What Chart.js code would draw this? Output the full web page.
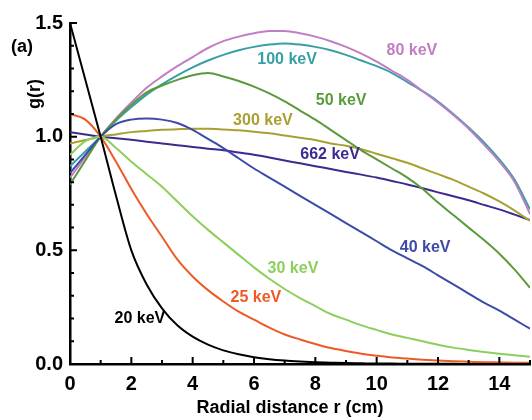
<!DOCTYPE html>
<html>
<head>
<meta charset="utf-8">
<script src="https://cdn.jsdelivr.net/npm/chart.js@4/dist/chart.umd.min.js"></script>
<style>
  html, body { margin: 0; padding: 0; background: #fff; }
</style>
</head>
<body>
<canvas id="gPlot" width="532" height="420"></canvas>
<script>
// radial distance (cm), shared by every curve
var radius = [0, 0.5, 1, 1.5, 2, 2.5, 3, 3.5, 4, 4.5, 5, 5.5, 6, 6.5, 7, 7.5,
              8, 8.5, 9, 9.5, 10, 10.5, 11, 11.5, 12, 12.5, 13, 13.5, 14, 14.5, 15];

var energies = ['20 keV', '25 keV', '30 keV', '40 keV', '50 keV', '80 keV', '100 keV', '300 keV', '662 keV'];

var g20 = [1.5, 1.25, 1.0, 0.74, 0.50, 0.35, 0.245, 0.17, 0.12, 0.085, 0.06, 0.043, 0.03, 0.021, 0.015, 0.011,
           0.008, 0.006, 0.004, 0.003, 0.002, 0.002, 0.001, 0.001, 0.001, 0.001, 0, 0, 0, 0, 0];
var g25 = [1.10, 1.075, 1.0, 0.89, 0.77, 0.66, 0.56, 0.46, 0.385, 0.325, 0.275, 0.23, 0.195, 0.16, 0.13, 0.108,
           0.088, 0.07, 0.057, 0.045, 0.036, 0.029, 0.024, 0.019, 0.015, 0.012, 0.01, 0.008, 0.007, 0.006, 0.005];
var g30 = [0.92, 0.98, 1.0, 0.95, 0.89, 0.835, 0.78, 0.715, 0.65, 0.59, 0.535, 0.48, 0.425, 0.375, 0.33, 0.29,
           0.255, 0.22, 0.195, 0.17, 0.15, 0.13, 0.115, 0.10, 0.085, 0.072, 0.062, 0.053, 0.045, 0.038, 0.032];
var g40 = [0.84, 0.92, 1.0, 1.055, 1.075, 1.08, 1.075, 1.06, 1.03, 0.99, 0.95, 0.905, 0.86, 0.82, 0.78, 0.74,
           0.70, 0.66, 0.62, 0.58, 0.54, 0.50, 0.465, 0.43, 0.39, 0.35, 0.31, 0.27, 0.235, 0.195, 0.155];
var g50 = [0.79, 0.895, 1.0, 1.075, 1.14, 1.195, 1.225, 1.25, 1.27, 1.28, 1.265, 1.245, 1.22, 1.19, 1.155, 1.115,
           1.075, 1.03, 0.985, 0.94, 0.90, 0.86, 0.82, 0.77, 0.71, 0.655, 0.60, 0.545, 0.485, 0.415, 0.335];
var g80 = [0.82, 0.91, 1.0, 1.08, 1.15, 1.215, 1.265, 1.31, 1.35, 1.39, 1.42, 1.44, 1.455, 1.465, 1.465, 1.455,
           1.44, 1.42, 1.395, 1.365, 1.33, 1.29, 1.25, 1.20, 1.15, 1.095, 1.035, 0.965, 0.89, 0.80, 0.66];
var g100 = [0.87, 0.935, 1.0, 1.07, 1.13, 1.185, 1.23, 1.27, 1.305, 1.335, 1.36, 1.38, 1.395, 1.405, 1.41, 1.405,
            1.395, 1.38, 1.36, 1.335, 1.31, 1.28, 1.24, 1.20, 1.155, 1.10, 1.04, 0.975, 0.90, 0.81, 0.68];
var g300 = [0.97, 0.985, 1.0, 1.01, 1.02, 1.025, 1.03, 1.033, 1.035, 1.035, 1.032, 1.028, 1.022, 1.015, 1.005, 0.995,
            0.985, 0.97, 0.96, 0.945, 0.925, 0.905, 0.885, 0.86, 0.835, 0.81, 0.78, 0.75, 0.715, 0.675, 0.63];
var g662 = [1.02, 1.01, 1.0, 0.993, 0.986, 0.978, 0.97, 0.962, 0.955, 0.947, 0.94, 0.93, 0.92, 0.908, 0.895, 0.883,
            0.87, 0.858, 0.845, 0.833, 0.82, 0.805, 0.79, 0.773, 0.755, 0.738, 0.72, 0.70, 0.68, 0.657, 0.633];

var xTicks = [0, 2, 4, 6, 8, 10, 12, 14];
var yTicks = [0, 0.5, 1.0, 1.5];

var allSeries = [g20, g25, g30, g40, g50, g80, g100, g300, g662];
var colours = ['#000000', '#ee5a26', '#8ccf5c', '#3c4aa8', '#5a9a3c', '#c07ec4', '#38a0a4', '#a8a032', '#3e2a8e'];
// where each curve's name is written, in data units (r, g)
var labelAt = [[2.28, 0.20], [6.06, 0.29], [7.27, 0.42], [11.58, 0.51], [8.84, 1.16],
               [11.15, 1.38], [7.08, 1.34], [6.29, 1.07], [8.48, 0.92]];

var FONT = '"Liberation Sans", Arial, Helvetica, sans-serif';

function toPoints(ys) {
  var pts = [];
  for (var i = 0; i < radius.length; i++) {
    pts.push({x: radius[i], y: ys[i]});
  }
  return pts;
}

var datasets = [];
for (var k = 0; k < allSeries.length; k++) {
  datasets.push({
    label: energies[k],
    data: toPoints(allSeries[k]),
    borderColor: colours[k],
    backgroundColor: colours[k],
    borderWidth: 2,
    pointRadius: 0,
    showLine: true,
    cubicInterpolationMode: 'monotone'
  });
}

// inward tick marks, curve names and the outer titles
var extras = {
  id: 'extras',
  afterDraw: function(chart) {
    var c = chart.ctx;
    var xs = chart.scales.x, ys = chart.scales.y;
    var area = chart.chartArea;
    c.save();
    c.strokeStyle = '#000';
    c.lineWidth = 2;
    c.beginPath();
    for (var i = 1; i <= 15; i++) {
      var px = xs.getPixelForValue(i);
      var len = (i % 2 === 0) ? 7 : 4;
      c.moveTo(px, area.bottom);
      c.lineTo(px, area.bottom - len);
    }
    for (var j = 1; j <= 15; j++) {
      var py = ys.getPixelForValue(j / 10);
      var ylen = (j % 5 === 0) ? 7 : 4;
      c.moveTo(area.left, py);
      c.lineTo(area.left + ylen, py);
    }
    c.stroke();

    c.font = 'bold 16px ' + FONT;
    c.textAlign = 'center';
    c.textBaseline = 'middle';
    for (var k = 0; k < energies.length; k++) {
      c.fillStyle = colours[k];
      c.fillText(energies[k], xs.getPixelForValue(labelAt[k][0]), ys.getPixelForValue(labelAt[k][1]));
    }

    c.fillStyle = '#000';
    c.font = 'bold 18px ' + FONT;
    c.fillText('(a)', 22, 47);
    c.fillText('Radial distance r (cm)', 290, 408);
    c.translate(35, 94);
    c.rotate(-Math.PI / 2);
    c.fillText('g(r)', 0, 0);
    c.restore();
  }
};

new Chart(document.getElementById('gPlot'), {
  type: 'scatter',
  data: {datasets: datasets},
  plugins: [extras],
  options: {
    responsive: false,
    animation: false,
    layout: {padding: {top: 23, right: 2, left: 0, bottom: 0}},
    plugins: {legend: {display: false}, tooltip: {enabled: false}},
    scales: {
      x: {
        type: 'linear', min: 0, max: 15,
        afterBuildTicks: function(scale) { scale.ticks = xTicks.map(function(v) { return {value: v}; }); },
        afterFit: function(scale) { scale.height = 56; },
        grid: {display: false, drawTicks: false},
        border: {display: true, color: '#000', width: 2.5},
        ticks: {color: '#000', padding: 8, font: {family: FONT, size: 20, weight: 'bold'},
                callback: function(v) { return String(v); }}
      },
      y: {
        type: 'linear', min: 0, max: 1.5,
        afterBuildTicks: function(scale) { scale.ticks = yTicks.map(function(v) { return {value: v}; }); },
        afterFit: function(scale) { scale.width = 70; },
        grid: {display: false, drawTicks: false},
        border: {display: true, color: '#000', width: 2.5},
        ticks: {color: '#000', padding: 7, font: {family: FONT, size: 20, weight: 'bold'},
                callback: function(v) { return Number(v).toFixed(1); }}
      }
    }
  }
});
</script>
</body>
</html>
